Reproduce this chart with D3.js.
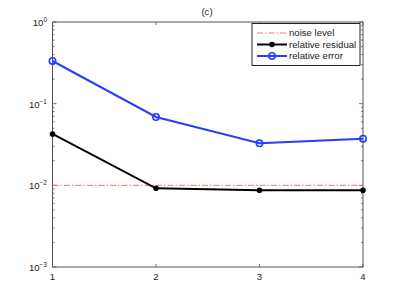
<!DOCTYPE html>
<html><head><meta charset="utf-8">
<script src="https://cdn.jsdelivr.net/npm/d3@7"></script>
<style>body{margin:0;background:#fff}svg{display:block}text{font-family:"Liberation Sans",Arial,sans-serif}</style>
</head><body><svg id="c" width="401" height="301"></svg>
<script>
const iterations = [1, 2, 3, 4];
const relativeError = [0.333, 0.0687, 0.0327, 0.0372];
const relativeResidual = [0.0426, 0.0092, 0.0087, 0.0087];
const noiseLevel = [0.01, 0.01, 0.01, 0.01];
const xTicks = [1, 2, 3, 4];
const yTickExps = [0, -1, -2, -3];
const legendLabels = ["noise level", "relative residual", "relative error"];

const svg = d3.select("#c");
const L = 52.5, R = 363, T = 22, B = 267;
const x = d3.scaleLinear().domain([1, 4]).range([L, R]);
const y = d3.scaleLog().domain([1e-3, 1]).range([B, T]);
const axisColor = "#555";
const fs = 9.6;

svg.append("rect").attr("x", L).attr("y", T).attr("width", R - L).attr("height", B - T)
  .attr("fill", "none").attr("stroke", axisColor).attr("stroke-width", 1);

const minor = [];
for (let e = -3; e < 0; e++) for (let m = 2; m <= 9; m++) minor.push(m * Math.pow(10, e));
const g = svg.append("g").attr("stroke", axisColor).attr("stroke-width", 0.8);
minor.forEach(v => {
  g.append("line").attr("x1", L).attr("x2", L + 2).attr("y1", y(v)).attr("y2", y(v));
  g.append("line").attr("x1", R).attr("x2", R - 2).attr("y1", y(v)).attr("y2", y(v));
});
yTickExps.forEach(e => {
  const v = Math.pow(10, e);
  g.append("line").attr("x1", L).attr("x2", L + 4).attr("y1", y(v)).attr("y2", y(v));
  g.append("line").attr("x1", R).attr("x2", R - 4).attr("y1", y(v)).attr("y2", y(v));
});
xTicks.forEach(t => {
  g.append("line").attr("x1", x(t)).attr("x2", x(t)).attr("y1", B).attr("y2", B - 3);
  g.append("line").attr("x1", x(t)).attr("x2", x(t)).attr("y1", T).attr("y2", T + 3);
});

xTicks.forEach(t => {
  svg.append("text").attr("x", x(t)).attr("y", 280).attr("text-anchor", "middle")
    .attr("font-size", fs).attr("fill", "#222").text(t);
});
yTickExps.forEach(e => {
  const tx = svg.append("text").attr("x", 47).attr("y", y(Math.pow(10, e)) + 4)
    .attr("text-anchor", "end").attr("font-size", fs).attr("fill", "#222");
  tx.append("tspan").text("10");
  tx.append("tspan").attr("dy", -4).attr("font-size", 6.5).text(e === 0 ? "0" : "\u2212" + Math.abs(e));
});

svg.append("text").attr("x", 207).attr("y", 15).attr("text-anchor", "middle")
  .attr("font-size", fs).attr("fill", "#222").text("(c)");

const line = d3.line().x((d, i) => x(iterations[i])).y(d => y(d));

svg.append("path").datum(noiseLevel).attr("d", line).attr("fill", "none")
  .attr("stroke", "#ff6e6e").attr("stroke-width", 1).attr("stroke-dasharray", "6,2,1.5,2");
svg.append("path").datum(relativeResidual).attr("d", line).attr("fill", "none")
  .attr("stroke", "#000").attr("stroke-width", 2);
svg.selectAll(".rm").data(relativeResidual).enter().append("circle")
  .attr("cx", (d, i) => x(iterations[i])).attr("cy", d => y(d)).attr("r", 2.8).attr("fill", "#000");
svg.append("path").datum(relativeError).attr("d", line).attr("fill", "none")
  .attr("stroke", "#2a3cff").attr("stroke-width", 2);
svg.selectAll(".em").data(relativeError).enter().append("circle")
  .attr("cx", (d, i) => x(iterations[i])).attr("cy", d => y(d)).attr("r", 3.2)
  .attr("fill", "none").attr("stroke", "#2a3cff").attr("stroke-width", 1.6);

const lx = 252, ly = 23.5, lw = 108, lh = 42;
svg.append("rect").attr("x", lx).attr("y", ly).attr("width", lw).attr("height", lh)
  .attr("fill", "#fff").attr("stroke", "#222").attr("stroke-width", 1);
const ys = [33, 44.5, 56];
const styles = [
  {c: "#ff6e6e", w: 1, dash: "6,2,1.5,2", m: null},
  {c: "#000", w: 2, dash: null, m: "fill"},
  {c: "#2a3cff", w: 2, dash: null, m: "open"}
];
legendLabels.forEach((lab, i) => {
  const s = styles[i];
  const ln = svg.append("line").attr("x1", 257).attr("x2", 287).attr("y1", ys[i]).attr("y2", ys[i])
    .attr("stroke", s.c).attr("stroke-width", s.w);
  if (s.dash) ln.attr("stroke-dasharray", s.dash);
  if (s.m === "fill") svg.append("circle").attr("cx", 272).attr("cy", ys[i]).attr("r", 2.8).attr("fill", s.c);
  if (s.m === "open") svg.append("circle").attr("cx", 272).attr("cy", ys[i]).attr("r", 3.2)
    .attr("fill", "none").attr("stroke", s.c).attr("stroke-width", 1.6);
  svg.append("text").attr("x", 289).attr("y", ys[i] + 3.4).attr("font-size", fs)
    .attr("fill", "#222").text(lab);
});
</script></body></html>
